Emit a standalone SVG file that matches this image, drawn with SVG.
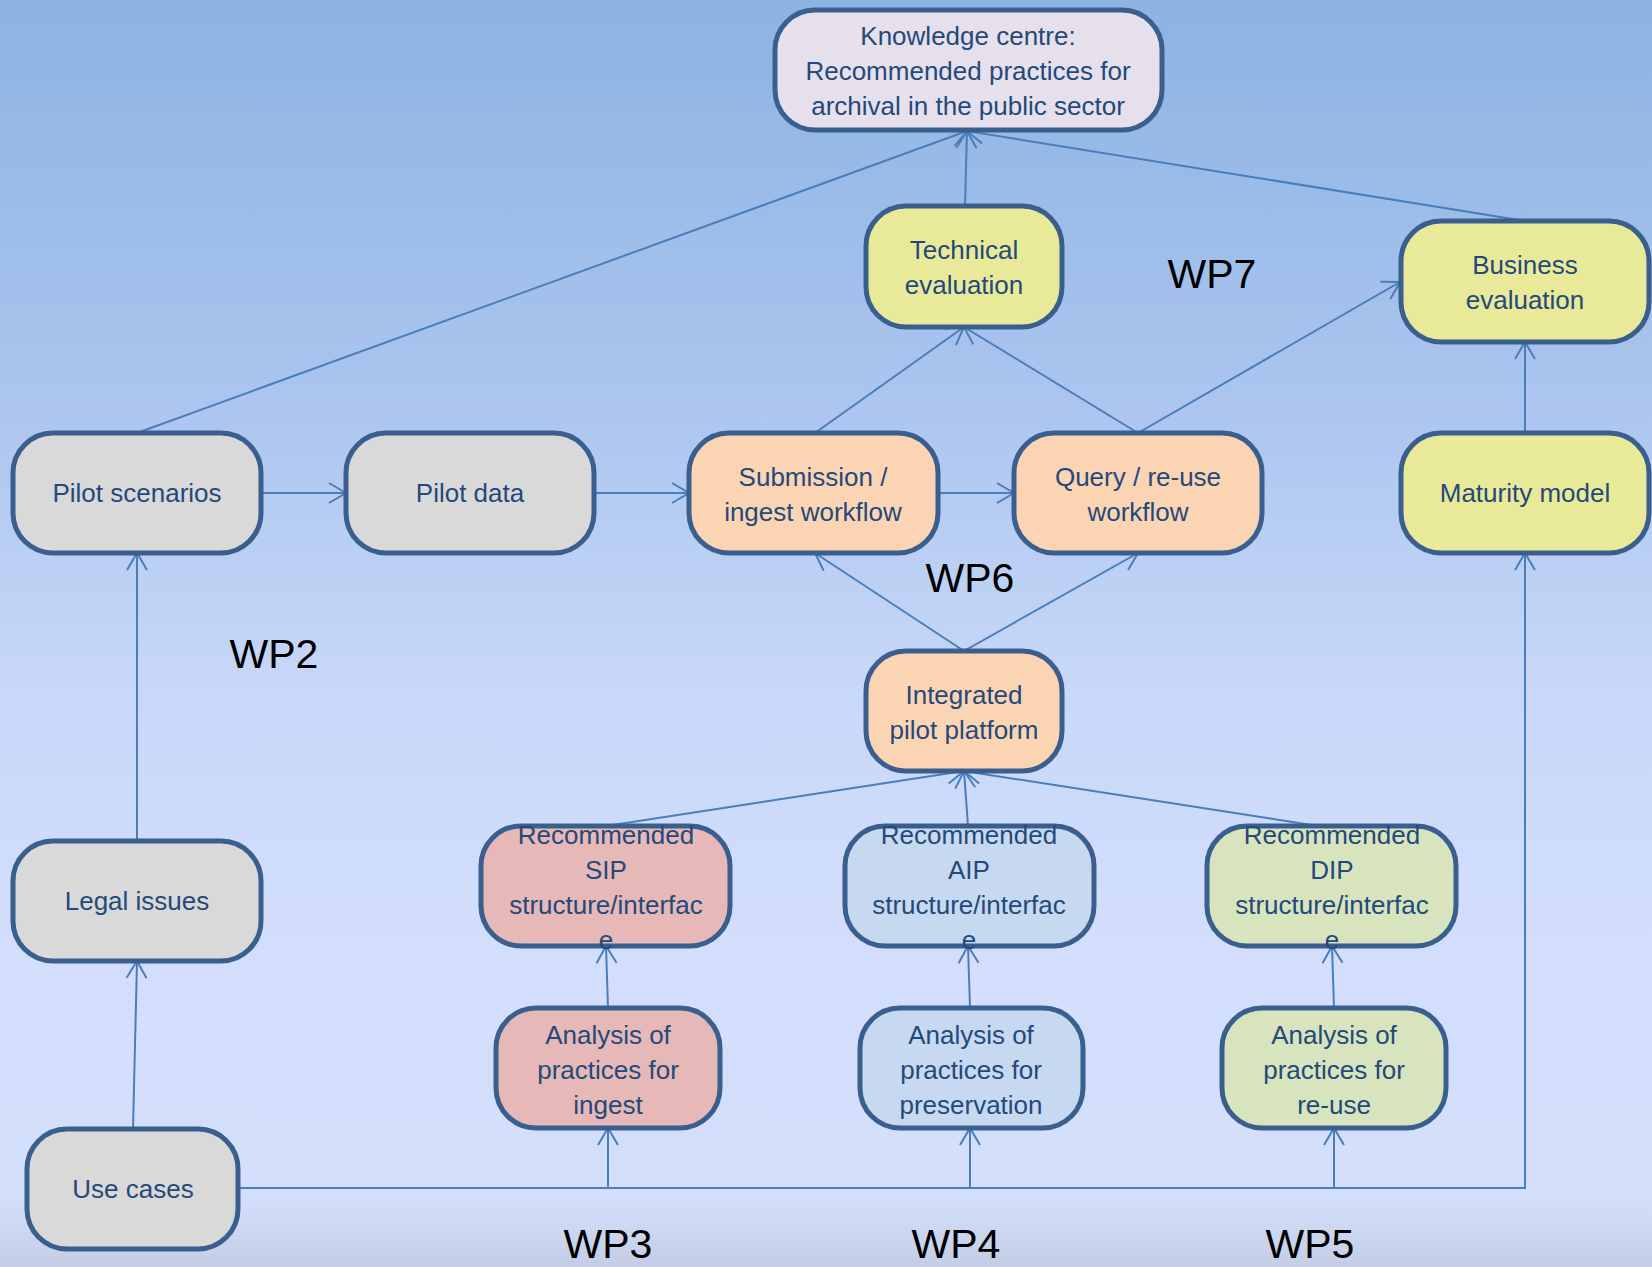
<svg xmlns="http://www.w3.org/2000/svg" width="1652" height="1267" viewBox="0 0 1652 1267">
<defs>
<linearGradient id="bg" x1="0" y1="0" x2="0" y2="1">
<stop offset="0" stop-color="#8db3e2"/>
<stop offset="0.3" stop-color="#a9c4ee"/>
<stop offset="0.55" stop-color="#c8d8f8"/>
<stop offset="0.75" stop-color="#d3defc"/>
<stop offset="0.945" stop-color="#d4dffc"/>
<stop offset="1" stop-color="#c3cde5"/>
</linearGradient>
<marker id="arr" markerUnits="userSpaceOnUse" viewBox="-20 -12 24 24" markerWidth="24" markerHeight="24" refX="0" refY="0" orient="auto" overflow="visible">
<path d="M-17,-10 L0,0 L-17,10" fill="none" stroke="#4a7ebb" stroke-width="2"/>
</marker>
<style>
.n{stroke:#3a5f8f;stroke-width:5}
.t{font-family:"Liberation Sans",Arial,sans-serif;font-size:26px;fill:#24497a;text-anchor:middle}
.wp{font-family:"Liberation Sans",Arial,sans-serif;font-size:41px;fill:#000;text-anchor:middle}
.c{fill:none;stroke:#4a7ebb;stroke-width:2;marker-end:url(#arr)}
.gray{fill:#d9d9d9}.yel{fill:#e9ea99}.pea{fill:#fbd5b3}.pink{fill:#e6b8b7}.lb{fill:#c6d9f1}.lg{fill:#d7e4bd}.lav{fill:#e5e0ec}
</style>
</defs>
<rect width="1652" height="1267" fill="url(#bg)"/>

<g id="connectors">
<path class="c" d="M137,433 L967,131"/>
<path class="c" d="M965,206 L967,131"/>
<path class="c" d="M1525,221 L967,131"/>
<path class="c" d="M815,433 L964,327"/>
<path class="c" d="M1138,433 L964,327"/>
<path class="c" d="M1138,433 L1400,282"/>
<path class="c" d="M261,493 L346,493"/>
<path class="c" d="M594,493 L689,493"/>
<path class="c" d="M938,493 L1014,493"/>
<path class="c" d="M1525,433 L1525,342"/>
<path class="c" d="M964,651 L815,553"/>
<path class="c" d="M964,651 L1138,553"/>
<path class="c" d="M606,826 L964,771"/>
<path class="c" d="M968,826 L964,771"/>
<path class="c" d="M1318,826 L964,771"/>
<path class="c" d="M137,841 L137,553"/>
<path class="c" d="M133,1129 L137,961"/>
<path class="c" d="M608,1008 L606,946"/>
<path class="c" d="M970,1008 L968,946"/>
<path class="c" d="M1334,1008 L1332,946"/>
<path class="c" d="M238,1188 H608 V1128"/>
<path class="c" d="M238,1188 H970 V1128"/>
<path class="c" d="M238,1188 H1334 V1128"/>
<path class="c" d="M238,1188 H1525 V553"/>
</g>

<g id="knowledge-centre">
<rect class="n lav" x="775" y="10" width="387" height="120" rx="40"/>
<text class="t" x="968" y="45">Knowledge centre:</text>
<text class="t" x="968" y="80">Recommended practices for</text>
<text class="t" x="968" y="115">archival in the public sector</text>
</g>
<g id="technical-evaluation">
<rect class="n yel" x="866" y="206" width="196" height="121" rx="40"/>
<text class="t" x="964" y="259">Technical</text>
<text class="t" x="964" y="294">evaluation</text>
</g>
<g id="business-evaluation">
<rect class="n yel" x="1401" y="221" width="248" height="121" rx="40"/>
<text class="t" x="1525" y="274">Business</text>
<text class="t" x="1525" y="309">evaluation</text>
</g>
<g id="pilot-scenarios">
<rect class="n gray" x="13" y="433" width="248" height="120" rx="40"/>
<text class="t" x="137" y="502">Pilot scenarios</text>
</g>
<g id="pilot-data">
<rect class="n gray" x="346" y="433" width="248" height="120" rx="40"/>
<text class="t" x="470" y="502">Pilot data</text>
</g>
<g id="submission-workflow">
<rect class="n pea" x="689" y="433" width="249" height="120" rx="40"/>
<text class="t" x="813" y="486">Submission /</text>
<text class="t" x="813" y="521">ingest workflow</text>
</g>
<g id="query-workflow">
<rect class="n pea" x="1014" y="433" width="248" height="120" rx="40"/>
<text class="t" x="1138" y="486">Query / re-use</text>
<text class="t" x="1138" y="521">workflow</text>
</g>
<g id="maturity-model">
<rect class="n yel" x="1401" y="433" width="248" height="120" rx="40"/>
<text class="t" x="1525" y="502">Maturity model</text>
</g>
<g id="integrated-pilot-platform">
<rect class="n pea" x="866" y="651" width="196" height="120" rx="40"/>
<text class="t" x="964" y="704">Integrated</text>
<text class="t" x="964" y="739">pilot platform</text>
</g>
<g id="recommended-sip">
<rect class="n pink" x="481" y="826" width="249" height="120" rx="40"/>
<text class="t" x="606" y="844">Recommended</text>
<text class="t" x="606" y="879">SIP</text>
<text class="t" x="606" y="914">structure/interfac</text>
<text class="t" x="606" y="949">e</text>
</g>
<g id="recommended-aip">
<rect class="n lb" x="845" y="826" width="249" height="120" rx="40"/>
<text class="t" x="969" y="844">Recommended</text>
<text class="t" x="969" y="879">AIP</text>
<text class="t" x="969" y="914">structure/interfac</text>
<text class="t" x="969" y="949">e</text>
</g>
<g id="recommended-dip">
<rect class="n lg" x="1207" y="826" width="249" height="120" rx="40"/>
<text class="t" x="1332" y="844">Recommended</text>
<text class="t" x="1332" y="879">DIP</text>
<text class="t" x="1332" y="914">structure/interfac</text>
<text class="t" x="1332" y="949">e</text>
</g>
<g id="legal-issues">
<rect class="n gray" x="13" y="841" width="248" height="120" rx="40"/>
<text class="t" x="137" y="910">Legal issues</text>
</g>
<g id="analysis-ingest">
<rect class="n pink" x="496" y="1008" width="224" height="120" rx="40"/>
<text class="t" x="608" y="1044">Analysis of</text>
<text class="t" x="608" y="1079">practices for</text>
<text class="t" x="608" y="1114">ingest</text>
</g>
<g id="analysis-preservation">
<rect class="n lb" x="860" y="1008" width="223" height="120" rx="40"/>
<text class="t" x="971" y="1044">Analysis of</text>
<text class="t" x="971" y="1079">practices for</text>
<text class="t" x="971" y="1114">preservation</text>
</g>
<g id="analysis-reuse">
<rect class="n lg" x="1222" y="1008" width="224" height="120" rx="40"/>
<text class="t" x="1334" y="1044">Analysis of</text>
<text class="t" x="1334" y="1079">practices for</text>
<text class="t" x="1334" y="1114">re-use</text>
</g>
<g id="use-cases">
<rect class="n gray" x="27" y="1129" width="211" height="120" rx="40"/>
<text class="t" x="133" y="1198">Use cases</text>
</g>

<g id="labels">
<text class="wp" x="1212" y="288">WP7</text>
<text class="wp" x="970" y="592">WP6</text>
<text class="wp" x="274" y="668">WP2</text>
<text class="wp" x="608" y="1258">WP3</text>
<text class="wp" x="956" y="1258">WP4</text>
<text class="wp" x="1310" y="1258">WP5</text>
</g>
</svg>
